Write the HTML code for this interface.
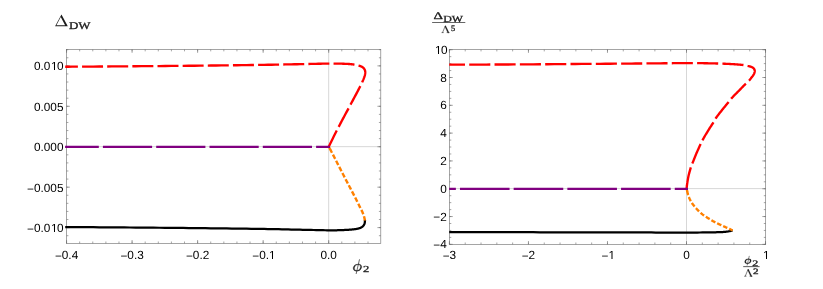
<!DOCTYPE html>
<html><head><meta charset="utf-8"><title>plot</title>
<style>
html,body{margin:0;padding:0;background:#fff;}
body{width:823px;height:289px;overflow:hidden;font-family:"Liberation Sans",sans-serif;}
svg{display:block;will-change:transform;}
</style></head><body>
<svg width="823" height="289" viewBox="0 0 823 289">
<rect width="823" height="289" fill="#fff"/>
<g stroke="#c6c6c6" stroke-width="0.7" fill="none">
<line x1="328.68" y1="49.45" x2="328.68" y2="243.40"/>
<line x1="66.50" y1="146.65" x2="380.80" y2="146.65"/>
</g>
<g stroke="#6e6e6e" stroke-width="0.62" fill="none">
<rect x="66.50" y="49.45" width="314.30" height="193.95"/>
<path d="M66.56 243.40v-1.90M66.56 49.45v1.90M79.67 243.40v-1.90M79.67 49.45v1.90M92.77 243.40v-1.90M92.77 49.45v1.90M105.88 243.40v-1.90M105.88 49.45v1.90M118.98 243.40v-1.90M118.98 49.45v1.90M132.09 243.40v-1.90M132.09 49.45v1.90M145.20 243.40v-1.90M145.20 49.45v1.90M158.30 243.40v-1.90M158.30 49.45v1.90M171.41 243.40v-1.90M171.41 49.45v1.90M184.51 243.40v-1.90M184.51 49.45v1.90M197.62 243.40v-1.90M197.62 49.45v1.90M210.73 243.40v-1.90M210.73 49.45v1.90M223.83 243.40v-1.90M223.83 49.45v1.90M236.94 243.40v-1.90M236.94 49.45v1.90M250.04 243.40v-1.90M250.04 49.45v1.90M263.15 243.40v-1.90M263.15 49.45v1.90M276.26 243.40v-1.90M276.26 49.45v1.90M289.36 243.40v-1.90M289.36 49.45v1.90M302.47 243.40v-1.90M302.47 49.45v1.90M315.57 243.40v-1.90M315.57 49.45v1.90M328.68 243.40v-1.90M328.68 49.45v1.90M341.79 243.40v-1.90M341.79 49.45v1.90M354.89 243.40v-1.90M354.89 49.45v1.90M368.00 243.40v-1.90M368.00 49.45v1.90M66.56 243.40v-3.40M66.56 49.45v3.40M132.09 243.40v-3.40M132.09 49.45v3.40M197.62 243.40v-3.40M197.62 49.45v3.40M263.15 243.40v-3.40M263.15 49.45v3.40M328.68 243.40v-3.40M328.68 49.45v3.40M66.50 235.69h1.90M380.80 235.69h-1.90M66.50 227.60h1.90M380.80 227.60h-1.90M66.50 219.51h1.90M380.80 219.51h-1.90M66.50 211.43h1.90M380.80 211.43h-1.90M66.50 203.34h1.90M380.80 203.34h-1.90M66.50 195.25h1.90M380.80 195.25h-1.90M66.50 187.16h1.90M380.80 187.16h-1.90M66.50 179.08h1.90M380.80 179.08h-1.90M66.50 170.99h1.90M380.80 170.99h-1.90M66.50 162.90h1.90M380.80 162.90h-1.90M66.50 154.82h1.90M380.80 154.82h-1.90M66.50 146.73h1.90M380.80 146.73h-1.90M66.50 138.64h1.90M380.80 138.64h-1.90M66.50 130.56h1.90M380.80 130.56h-1.90M66.50 122.47h1.90M380.80 122.47h-1.90M66.50 114.38h1.90M380.80 114.38h-1.90M66.50 106.29h1.90M380.80 106.29h-1.90M66.50 98.21h1.90M380.80 98.21h-1.90M66.50 90.12h1.90M380.80 90.12h-1.90M66.50 82.03h1.90M380.80 82.03h-1.90M66.50 73.95h1.90M380.80 73.95h-1.90M66.50 65.86h1.90M380.80 65.86h-1.90M66.50 57.77h1.90M380.80 57.77h-1.90M66.50 49.69h1.90M380.80 49.69h-1.90M66.50 227.60h3.40M380.80 227.60h-3.40M66.50 187.16h3.40M380.80 187.16h-3.40M66.50 146.73h3.40M380.80 146.73h-3.40M66.50 106.29h3.40M380.80 106.29h-3.40M66.50 65.86h3.40M380.80 65.86h-3.40"/>
</g>
<g font-family="'Liberation Sans', sans-serif" font-size="11.80" fill="#000" style="text-rendering:geometricPrecision">
<text x="66.56" y="259.00" text-anchor="middle"><tspan dy="0.8">−</tspan><tspan dy="-0.8">0</tspan>.4</text>
<text x="132.09" y="259.00" text-anchor="middle"><tspan dy="0.8">−</tspan><tspan dy="-0.8">0</tspan>.3</text>
<text x="197.62" y="259.00" text-anchor="middle"><tspan dy="0.8">−</tspan><tspan dy="-0.8">0</tspan>.2</text>
<text x="263.90" y="259.00" text-anchor="middle"><tspan dy="0.8">−</tspan><tspan dy="-0.8">0</tspan>.1</text>
<text x="328.68" y="259.00" text-anchor="middle">0.0</text>
<text x="63.50" y="232.15" text-anchor="end"><tspan dy="0.8">−</tspan><tspan dy="-0.8">0</tspan>.0<tspan dx="0.70">1</tspan><tspan dx="-0.70">0</tspan></text>
<text x="63.50" y="191.72" text-anchor="end"><tspan dy="0.8">−</tspan><tspan dy="-0.8">0</tspan>.005</text>
<text x="63.50" y="151.28" text-anchor="end">0.000</text>
<text x="63.50" y="110.84" text-anchor="end">0.005</text>
<text x="63.50" y="70.41" text-anchor="end">0.0<tspan dx="0.70">1</tspan><tspan dx="-0.70">0</tspan></text>
</g>
<g stroke="#c6c6c6" stroke-width="0.7" fill="none">
<line x1="686.50" y1="49.50" x2="686.50" y2="244.40"/>
<line x1="449.40" y1="188.60" x2="765.70" y2="188.60"/>
</g>
<g stroke="#6e6e6e" stroke-width="0.62" fill="none">
<rect x="449.40" y="49.50" width="316.30" height="194.90"/>
<path d="M449.41 244.40v-1.90M449.41 49.50v1.90M465.22 244.40v-1.90M465.22 49.50v1.90M481.02 244.40v-1.90M481.02 49.50v1.90M496.83 244.40v-1.90M496.83 49.50v1.90M512.63 244.40v-1.90M512.63 49.50v1.90M528.44 244.40v-1.90M528.44 49.50v1.90M544.25 244.40v-1.90M544.25 49.50v1.90M560.05 244.40v-1.90M560.05 49.50v1.90M575.86 244.40v-1.90M575.86 49.50v1.90M591.66 244.40v-1.90M591.66 49.50v1.90M607.47 244.40v-1.90M607.47 49.50v1.90M623.28 244.40v-1.90M623.28 49.50v1.90M639.08 244.40v-1.90M639.08 49.50v1.90M654.89 244.40v-1.90M654.89 49.50v1.90M670.69 244.40v-1.90M670.69 49.50v1.90M686.50 244.40v-1.90M686.50 49.50v1.90M702.31 244.40v-1.90M702.31 49.50v1.90M718.11 244.40v-1.90M718.11 49.50v1.90M733.92 244.40v-1.90M733.92 49.50v1.90M749.72 244.40v-1.90M749.72 49.50v1.90M765.53 244.40v-1.90M765.53 49.50v1.90M449.41 244.40v-3.40M449.41 49.50v3.40M528.44 244.40v-3.40M528.44 49.50v3.40M607.47 244.40v-3.40M607.47 49.50v3.40M686.50 244.40v-3.40M686.50 49.50v3.40M765.53 244.40v-3.40M765.53 49.50v3.40M449.40 244.36h1.90M765.70 244.36h-1.90M449.40 237.40h1.90M765.70 237.40h-1.90M449.40 230.45h1.90M765.70 230.45h-1.90M449.40 223.50h1.90M765.70 223.50h-1.90M449.40 216.55h1.90M765.70 216.55h-1.90M449.40 209.60h1.90M765.70 209.60h-1.90M449.40 202.64h1.90M765.70 202.64h-1.90M449.40 195.69h1.90M765.70 195.69h-1.90M449.40 188.74h1.90M765.70 188.74h-1.90M449.40 181.79h1.90M765.70 181.79h-1.90M449.40 174.84h1.90M765.70 174.84h-1.90M449.40 167.88h1.90M765.70 167.88h-1.90M449.40 160.93h1.90M765.70 160.93h-1.90M449.40 153.98h1.90M765.70 153.98h-1.90M449.40 147.03h1.90M765.70 147.03h-1.90M449.40 140.08h1.90M765.70 140.08h-1.90M449.40 133.12h1.90M765.70 133.12h-1.90M449.40 126.17h1.90M765.70 126.17h-1.90M449.40 119.22h1.90M765.70 119.22h-1.90M449.40 112.27h1.90M765.70 112.27h-1.90M449.40 105.32h1.90M765.70 105.32h-1.90M449.40 98.36h1.90M765.70 98.36h-1.90M449.40 91.41h1.90M765.70 91.41h-1.90M449.40 84.46h1.90M765.70 84.46h-1.90M449.40 77.51h1.90M765.70 77.51h-1.90M449.40 70.56h1.90M765.70 70.56h-1.90M449.40 63.60h1.90M765.70 63.60h-1.90M449.40 56.65h1.90M765.70 56.65h-1.90M449.40 49.70h1.90M765.70 49.70h-1.90M449.40 244.36h3.40M765.70 244.36h-3.40M449.40 216.55h3.40M765.70 216.55h-3.40M449.40 188.74h3.40M765.70 188.74h-3.40M449.40 160.93h3.40M765.70 160.93h-3.40M449.40 133.12h3.40M765.70 133.12h-3.40M449.40 105.32h3.40M765.70 105.32h-3.40M449.40 77.51h3.40M765.70 77.51h-3.40M449.40 49.70h3.40M765.70 49.70h-3.40"/>
</g>
<g font-family="'Liberation Sans', sans-serif" font-size="11.80" fill="#000" style="text-rendering:geometricPrecision">
<text x="449.41" y="259.40" text-anchor="middle"><tspan dy="0.8">−</tspan><tspan dy="-0.8">3</tspan></text>
<text x="528.44" y="259.40" text-anchor="middle"><tspan dy="0.8">−</tspan><tspan dy="-0.8">2</tspan></text>
<text x="608.22" y="259.40" text-anchor="middle"><tspan dy="0.8">−</tspan><tspan dy="-0.8">1</tspan></text>
<text x="686.50" y="259.40" text-anchor="middle">0</text>
<text x="766.28" y="259.40" text-anchor="middle">1</text>
<text x="446.80" y="248.36" text-anchor="end"><tspan dy="0.8">−</tspan><tspan dy="-0.8">4</tspan></text>
<text x="446.80" y="220.55" text-anchor="end"><tspan dy="0.8">−</tspan><tspan dy="-0.8">2</tspan></text>
<text x="446.80" y="192.74" text-anchor="end">0</text>
<text x="446.80" y="164.93" text-anchor="end">2</text>
<text x="446.80" y="137.12" text-anchor="end">4</text>
<text x="446.80" y="109.32" text-anchor="end">6</text>
<text x="446.80" y="81.51" text-anchor="end">8</text>
<text x="446.80" y="53.70" text-anchor="end"><tspan dx="0.70">1</tspan><tspan dx="-0.70">0</tspan></text>
</g>
<g fill="none" stroke-width="2.25" stroke-linejoin="round">
<path d="M65.20 227.05 L68.31 227.07 L72.19 227.10 L76.72 227.13 L81.81 227.16 L87.34 227.20 L93.23 227.23 L99.35 227.28 L105.61 227.32 L111.92 227.36 L118.15 227.41 L124.21 227.45 L130.00 227.50 L135.68 227.55 L141.48 227.60 L147.37 227.65 L153.32 227.70 L159.30 227.75 L165.30 227.81 L171.28 227.86 L177.21 227.92 L183.08 227.98 L188.85 228.03 L194.50 228.09 L200.00 228.15 L205.41 228.21 L210.81 228.27 L216.17 228.33 L221.48 228.39 L226.72 228.45 L231.88 228.52 L236.92 228.58 L241.85 228.64 L246.64 228.71 L251.27 228.77 L255.73 228.84 L260.00 228.90 L264.07 228.97 L267.95 229.03 L271.67 229.10 L275.23 229.17 L278.65 229.24 L281.95 229.31 L285.14 229.38 L288.24 229.45 L291.26 229.51 L294.21 229.58 L297.12 229.64 L300.00 229.70 L302.85 229.76 L305.65 229.82 L308.40 229.88 L311.08 229.94 L313.69 230.00 L316.20 230.06 L318.61 230.11 L320.92 230.16 L323.10 230.21 L325.15 230.25 L327.05 230.28 L328.80 230.30 L330.35 230.32 L331.69 230.32 L332.84 230.32 L333.85 230.32 L334.73 230.31 L335.52 230.30 L336.25 230.28 L336.94 230.26 L337.63 230.23 L338.35 230.21 L339.13 230.18 L340.00 230.15 L340.93 230.12 L341.89 230.08 L342.86 230.05 L343.83 230.01 L344.80 229.96 L345.76 229.92 L346.71 229.87 L347.63 229.82 L348.51 229.76 L349.36 229.71 L350.16 229.66 L350.90 229.60 L351.59 229.54 L352.23 229.49 L352.83 229.43 L353.40 229.37 L353.93 229.30 L354.44 229.24 L354.92 229.17 L355.38 229.11 L355.82 229.03 L356.25 228.96 L356.68 228.88 L357.10 228.80 L357.51 228.72 L357.90 228.63 L358.27 228.54 L358.63 228.46 L358.96 228.36 L359.29 228.27 L359.60 228.17 L359.90 228.07 L360.18 227.96 L360.46 227.85 L360.73 227.73 L361.00 227.60 L361.26 227.47 L361.50 227.33 L361.73 227.18 L361.96 227.03 L362.17 226.88 L362.37 226.72 L362.56 226.56 L362.74 226.39 L362.92 226.22 L363.09 226.05 L363.25 225.87 L363.40 225.70 L363.54 225.52 L363.68 225.34 L363.80 225.16 L363.92 224.97 L364.03 224.79 L364.13 224.59 L364.22 224.40 L364.31 224.20 L364.39 224.01 L364.46 223.81 L364.53 223.60 L364.60 223.40 L364.66 223.19 L364.71 222.97 L364.76 222.73 L364.79 222.50 L364.83 222.26 L364.85 222.02 L364.88 221.79 L364.89 221.56 L364.91 221.34 L364.92 221.14 L364.94 220.96 L364.95 220.80 L364.96 220.66 L364.96 220.53 L364.96 220.41 L364.96 220.31 L364.95 220.22 L364.95 220.14 L364.94 220.06 L364.93 220.00 L364.92 219.94 L364.91 219.89 L364.90 219.84 L364.90 219.80" stroke="#000"/>
<path d="M449.20 232.05 L452.59 232.06 L456.80 232.07 L461.71 232.08 L467.21 232.09 L473.22 232.10 L479.60 232.11 L486.26 232.13 L493.10 232.14 L499.99 232.16 L506.85 232.17 L513.55 232.19 L520.00 232.20 L526.41 232.22 L533.03 232.23 L539.82 232.25 L546.73 232.27 L553.69 232.28 L560.67 232.30 L567.62 232.32 L574.47 232.34 L581.19 232.36 L587.72 232.37 L594.00 232.39 L600.00 232.40 L605.76 232.41 L611.39 232.42 L616.88 232.43 L622.22 232.44 L627.43 232.45 L632.50 232.46 L637.43 232.47 L642.22 232.48 L646.88 232.48 L651.39 232.49 L655.76 232.50 L660.00 232.50 L664.09 232.50 L668.05 232.51 L671.86 232.52 L675.53 232.52 L679.06 232.53 L682.45 232.53 L685.71 232.53 L688.83 232.53 L691.82 232.53 L694.68 232.52 L697.40 232.51 L700.00 232.50 L702.45 232.48 L704.74 232.46 L706.88 232.43 L708.87 232.40 L710.73 232.37 L712.47 232.34 L714.09 232.30 L715.61 232.26 L717.03 232.22 L718.36 232.18 L719.61 232.14 L720.80 232.10 L721.87 232.06 L722.78 232.02 L723.55 231.97 L724.21 231.93 L724.77 231.88 L725.25 231.84 L725.68 231.79 L726.07 231.74 L726.45 231.68 L726.83 231.63 L727.24 231.56 L727.70 231.50 L728.19 231.43 L728.68 231.34 L729.16 231.25 L729.63 231.16 L730.09 231.06 L730.53 230.96 L730.95 230.87 L731.33 230.77 L731.69 230.69 L732.00 230.61 L732.27 230.55 L732.50 230.50" stroke="#000"/>
<path d="M328.80 146.55 L329.22 147.37 L329.75 148.40 L330.37 149.62 L331.07 150.98 L331.83 152.45 L332.63 154.02 L333.46 155.64 L334.31 157.29 L335.15 158.93 L335.97 160.53 L336.76 162.06 L337.50 163.50 L338.20 164.87 L338.90 166.23 L339.60 167.58 L340.29 168.92 L340.97 170.25 L341.66 171.58 L342.34 172.91 L343.03 174.24 L343.71 175.57 L344.40 176.91 L345.10 178.25 L345.80 179.60 L346.52 180.98 L347.26 182.39 L348.01 183.82 L348.77 185.27 L349.54 186.73 L350.30 188.17 L351.05 189.59 L351.78 190.98 L352.49 192.33 L353.17 193.62 L353.80 194.85 L354.40 196.00 L354.95 197.08 L355.48 198.10 L355.97 199.08 L356.43 200.00 L356.87 200.89 L357.29 201.73 L357.69 202.54 L358.08 203.32 L358.45 204.07 L358.81 204.80 L359.16 205.51 L359.50 206.20 L359.83 206.87 L360.15 207.49 L360.45 208.08 L360.73 208.64 L361.00 209.17 L361.26 209.67 L361.51 210.16 L361.74 210.64 L361.97 211.11 L362.19 211.57 L362.40 212.03 L362.60 212.50 L362.79 212.97 L362.98 213.43 L363.15 213.89 L363.31 214.34 L363.46 214.78 L363.61 215.21 L363.74 215.62 L363.87 216.03 L363.99 216.42 L364.10 216.80 L364.20 217.16 L364.30 217.50 L364.39 217.83 L364.47 218.15 L364.54 218.46 L364.60 218.76 L364.66 219.04 L364.71 219.31 L364.75 219.56 L364.79 219.80 L364.82 220.01 L364.85 220.20 L364.87 220.36 L364.90 220.50" stroke="#ff8000" stroke-width="2.4" stroke-dasharray="4.8 2.1" stroke-dashoffset="4.7"/>
<path d="M328.80 146.55 L329.22 147.37 L329.75 148.40 L329.99 148.86" stroke="#ff8000"/>
<path d="M686.60 188.60 L686.67 188.90 L686.75 189.27 L686.84 189.71 L686.94 190.20 L687.06 190.74 L687.18 191.31 L687.31 191.90 L687.46 192.50 L687.61 193.10 L687.76 193.69 L687.93 194.26 L688.10 194.80 L688.28 195.32 L688.46 195.84 L688.65 196.37 L688.84 196.89 L689.05 197.42 L689.26 197.94 L689.49 198.47 L689.72 199.00 L689.97 199.52 L690.23 200.05 L690.51 200.57 L690.80 201.10 L691.11 201.62 L691.42 202.15 L691.76 202.67 L692.10 203.20 L692.46 203.72 L692.82 204.25 L693.21 204.78 L693.60 205.30 L694.01 205.82 L694.42 206.35 L694.86 206.87 L695.30 207.40 L695.76 207.93 L696.24 208.47 L696.73 209.01 L697.23 209.55 L697.75 210.10 L698.28 210.64 L698.82 211.17 L699.37 211.70 L699.92 212.22 L700.48 212.73 L701.04 213.22 L701.60 213.70 L702.17 214.16 L702.75 214.61 L703.34 215.04 L703.93 215.47 L704.54 215.88 L705.14 216.29 L705.75 216.69 L706.37 217.08 L706.98 217.46 L707.59 217.85 L708.20 218.22 L708.80 218.60 L709.39 218.97 L709.98 219.33 L710.56 219.68 L711.13 220.02 L711.71 220.36 L712.29 220.69 L712.87 221.03 L713.47 221.36 L714.07 221.69 L714.70 222.02 L715.34 222.36 L716.00 222.70 L716.69 223.05 L717.41 223.40 L718.15 223.76 L718.91 224.12 L719.69 224.48 L720.47 224.84 L721.25 225.20 L722.03 225.55 L722.80 225.90 L723.55 226.24 L724.29 226.58 L725.00 226.90 L725.71 227.22 L726.45 227.56 L727.20 227.90 L727.95 228.23 L728.69 228.57 L729.41 228.89 L730.10 229.20 L730.75 229.48 L731.35 229.75 L731.88 229.98 L732.33 230.19 L732.70 230.35" stroke="#ff8000" stroke-width="2.4" stroke-dasharray="4.55 2.03" stroke-dashoffset="4.38"/>
<path d="M686.60 188.60 L686.67 188.90 L686.75 189.27 L686.84 189.71 L686.94 190.20 L687.06 190.74 L687.15 191.14" stroke="#ff8000"/>
<path d="M65.20 66.75 L68.31 66.73 L72.19 66.70 L76.72 66.67 L81.81 66.64 L87.34 66.60 L93.23 66.57 L99.35 66.52 L105.61 66.48 L111.92 66.44 L118.15 66.39 L124.21 66.35 L130.00 66.30 L135.68 66.25 L141.48 66.20 L147.37 66.15 L153.32 66.10 L159.30 66.05 L165.30 65.99 L171.28 65.94 L177.21 65.88 L183.08 65.82 L188.85 65.77 L194.50 65.71 L200.00 65.65 L205.41 65.59 L210.81 65.53 L216.17 65.47 L221.48 65.41 L226.72 65.34 L231.88 65.28 L236.92 65.22 L241.85 65.15 L246.64 65.09 L251.27 65.03 L255.73 64.96 L260.00 64.90 L264.07 64.84 L267.95 64.77 L271.67 64.71 L275.23 64.64 L278.65 64.58 L281.95 64.51 L285.14 64.45 L288.24 64.39 L291.26 64.32 L294.21 64.26 L297.12 64.21 L300.00 64.15 L302.83 64.09 L305.59 64.04 L308.28 63.98 L310.90 63.92 L313.43 63.87 L315.89 63.82 L318.26 63.77 L320.55 63.72 L322.75 63.68 L324.86 63.65 L326.88 63.62 L328.80 63.60 L330.62 63.59 L332.32 63.58 L333.91 63.59 L335.41 63.59 L336.83 63.60 L338.16 63.62 L339.43 63.64 L340.63 63.67 L341.78 63.70 L342.89 63.73 L343.96 63.76 L345.00 63.80 L345.99 63.84 L346.92 63.88 L347.77 63.93 L348.57 63.99 L349.31 64.04 L350.01 64.10 L350.67 64.16 L351.30 64.23 L351.90 64.29 L352.47 64.36 L353.04 64.43 L353.60 64.50 L354.14 64.57 L354.64 64.65 L355.11 64.73 L355.54 64.81 L355.96 64.89 L356.34 64.97 L356.71 65.06 L357.07 65.15 L357.41 65.24 L357.74 65.32 L358.07 65.41 L358.40 65.50 L358.72 65.59 L359.03 65.68 L359.32 65.77 L359.61 65.86 L359.88 65.95 L360.14 66.04 L360.39 66.13 L360.63 66.22 L360.86 66.32 L361.08 66.41 L361.29 66.50 L361.50 66.60 L361.70 66.69 L361.88 66.79 L362.05 66.88 L362.21 66.97 L362.37 67.07 L362.51 67.16 L362.65 67.26 L362.79 67.36 L362.92 67.46 L363.04 67.57 L363.17 67.68 L363.30 67.80 L363.43 67.92 L363.55 68.05 L363.68 68.18 L363.80 68.32 L363.91 68.46 L364.03 68.60 L364.13 68.75 L364.24 68.89 L364.34 69.04 L364.43 69.19 L364.52 69.35 L364.60 69.50 L364.68 69.65 L364.75 69.81 L364.82 69.97 L364.88 70.13 L364.94 70.29 L364.99 70.45 L365.04 70.62 L365.08 70.79 L365.12 70.96 L365.15 71.13 L365.18 71.31 L365.20 71.50 L365.22 71.69 L365.23 71.88 L365.24 72.08 L365.24 72.27 L365.24 72.48 L365.24 72.68 L365.23 72.89 L365.21 73.10 L365.19 73.32 L365.17 73.54 L365.14 73.77 L365.10 74.00 L365.06 74.23 L365.02 74.46 L364.98 74.69 L364.93 74.92 L364.88 75.16 L364.82 75.40 L364.75 75.65 L364.68 75.91 L364.60 76.18 L364.51 76.47 L364.41 76.78 L364.30 77.10 L364.18 77.45 L364.04 77.81 L363.89 78.20 L363.73 78.60 L363.57 79.02 L363.39 79.44 L363.22 79.87 L363.03 80.31 L362.85 80.74 L362.66 81.17 L362.48 81.59 L362.30 82.00 L362.14 82.36 L362.02 82.66 L361.91 82.91 L361.81 83.14 L361.72 83.36 L361.61 83.61 L361.47 83.90 L361.30 84.26 L361.07 84.71 L360.79 85.27 L360.44 85.96 L360.00 86.80 L359.48 87.79 L358.90 88.90 L358.25 90.12 L357.56 91.44 L356.81 92.84 L356.02 94.33 L355.19 95.88 L354.33 97.49 L353.45 99.14 L352.55 100.84 L351.63 102.56 L350.70 104.30 L349.73 106.11 L348.70 108.04 L347.61 110.07 L346.49 112.16 L345.34 114.31 L344.18 116.48 L343.01 118.65 L341.87 120.80 L340.75 122.90 L339.67 124.93 L338.65 126.87 L337.70 128.70 L336.79 130.47 L335.88 132.26 L334.98 134.04 L334.10 135.80 L333.25 137.51 L332.44 139.15 L331.67 140.71 L330.96 142.16 L330.30 143.50 L329.72 144.68 L329.22 145.71 L328.80 146.55" stroke="#ff0000" stroke-width="2.35" stroke-dasharray="21 4.15" stroke-dashoffset="8.3"/>
<path d="M449.20 64.70 L452.59 64.69 L456.80 64.67 L461.71 64.65 L467.21 64.63 L473.22 64.61 L479.60 64.59 L486.26 64.56 L493.10 64.53 L499.99 64.50 L506.85 64.47 L513.55 64.44 L520.00 64.40 L526.44 64.36 L533.15 64.32 L540.06 64.27 L547.10 64.21 L554.20 64.16 L561.30 64.11 L568.33 64.05 L575.21 64.00 L581.89 63.94 L588.30 63.89 L594.35 63.84 L600.00 63.80 L605.26 63.76 L610.23 63.72 L614.93 63.68 L619.39 63.65 L623.64 63.61 L627.72 63.58 L631.64 63.55 L635.44 63.52 L639.15 63.49 L642.80 63.46 L646.40 63.43 L650.00 63.40 L653.59 63.37 L657.13 63.34 L660.61 63.31 L664.02 63.28 L667.33 63.25 L670.53 63.22 L673.61 63.20 L676.54 63.17 L679.31 63.15 L681.90 63.13 L684.31 63.11 L686.50 63.10 L688.42 63.09 L690.03 63.08 L691.40 63.08 L692.56 63.08 L693.55 63.08 L694.44 63.08 L695.26 63.09 L696.06 63.10 L696.88 63.11 L697.78 63.12 L698.81 63.13 L700.00 63.15 L701.33 63.17 L702.74 63.19 L704.21 63.21 L705.72 63.24 L707.26 63.27 L708.81 63.30 L710.36 63.33 L711.89 63.36 L713.38 63.39 L714.83 63.43 L716.20 63.46 L717.50 63.50 L718.72 63.54 L719.88 63.57 L720.98 63.61 L722.04 63.64 L723.07 63.68 L724.07 63.72 L725.06 63.76 L726.03 63.80 L727.01 63.84 L727.99 63.89 L728.98 63.94 L730.00 64.00 L731.06 64.06 L732.15 64.13 L733.26 64.20 L734.39 64.27 L735.52 64.35 L736.63 64.42 L737.72 64.50 L738.76 64.59 L739.76 64.67 L740.69 64.75 L741.54 64.82 L742.30 64.90 L742.96 64.97 L743.54 65.05 L744.04 65.12 L744.48 65.19 L744.86 65.26 L745.21 65.34 L745.52 65.41 L745.82 65.49 L746.12 65.56 L746.42 65.64 L746.74 65.72 L747.10 65.80 L747.48 65.88 L747.86 65.97 L748.24 66.05 L748.61 66.14 L748.99 66.23 L749.36 66.32 L749.72 66.41 L750.06 66.50 L750.40 66.60 L750.72 66.70 L751.02 66.80 L751.30 66.90 L751.56 67.00 L751.81 67.11 L752.04 67.21 L752.25 67.31 L752.45 67.42 L752.64 67.53 L752.82 67.64 L752.99 67.76 L753.15 67.89 L753.31 68.02 L753.46 68.15 L753.60 68.30 L753.74 68.45 L753.87 68.62 L753.99 68.79 L754.11 68.97 L754.21 69.15 L754.31 69.34 L754.40 69.53 L754.48 69.72 L754.55 69.92 L754.61 70.11 L754.66 70.31 L754.70 70.50 L754.73 70.69 L754.74 70.89 L754.74 71.09 L754.74 71.29 L754.72 71.49 L754.69 71.69 L754.66 71.89 L754.62 72.09 L754.57 72.30 L754.52 72.50 L754.46 72.70 L754.40 72.90 L754.33 73.10 L754.26 73.30 L754.18 73.50 L754.09 73.70 L754.00 73.89 L753.90 74.09 L753.80 74.29 L753.69 74.49 L753.57 74.69 L753.45 74.89 L753.33 75.10 L753.20 75.30 L753.07 75.51 L752.92 75.71 L752.77 75.92 L752.61 76.13 L752.45 76.34 L752.29 76.56 L752.12 76.77 L751.95 76.98 L751.78 77.19 L751.62 77.39 L751.46 77.60 L751.30 77.80 L751.15 78.00 L751.01 78.19 L750.87 78.38 L750.73 78.57 L750.59 78.75 L750.46 78.94 L750.32 79.12 L750.17 79.31 L750.02 79.50 L749.86 79.70 L749.68 79.89 L749.50 80.10 L749.32 80.30 L749.14 80.47 L748.98 80.64 L748.81 80.80 L748.63 80.96 L748.44 81.13 L748.24 81.32 L748.00 81.54 L747.74 81.79 L747.44 82.07 L747.09 82.41 L746.70 82.80 L746.25 83.25 L745.74 83.76 L745.19 84.32 L744.60 84.91 L743.98 85.55 L743.33 86.20 L742.67 86.87 L742.00 87.55 L741.33 88.23 L740.67 88.91 L740.02 89.56 L739.40 90.20 L738.78 90.83 L738.14 91.48 L737.48 92.15 L736.82 92.81 L736.16 93.49 L735.51 94.15 L734.87 94.80 L734.24 95.44 L733.65 96.05 L733.09 96.64 L732.57 97.19 L732.10 97.70 L731.69 98.15 L731.34 98.55 L731.04 98.90 L730.79 99.21 L730.55 99.51 L730.34 99.79 L730.12 100.07 L729.90 100.36 L729.66 100.68 L729.39 101.04 L729.07 101.44 L728.70 101.90 L728.28 102.42 L727.82 102.98 L727.32 103.57 L726.81 104.20 L726.27 104.85 L725.72 105.52 L725.16 106.20 L724.59 106.89 L724.03 107.58 L723.47 108.26 L722.93 108.94 L722.40 109.60 L721.87 110.26 L721.33 110.95 L720.78 111.65 L720.22 112.35 L719.66 113.06 L719.11 113.76 L718.58 114.45 L718.06 115.13 L717.57 115.77 L717.11 116.39 L716.68 116.97 L716.30 117.50 L715.98 117.97 L715.71 118.37 L715.50 118.72 L715.32 119.03 L715.17 119.31 L715.03 119.58 L714.89 119.86 L714.74 120.15 L714.57 120.48 L714.37 120.85 L714.11 121.29 L713.80 121.80 L713.43 122.39 L713.01 123.04 L712.56 123.74 L712.08 124.48 L711.57 125.25 L711.05 126.05 L710.52 126.86 L709.99 127.68 L709.46 128.49 L708.95 129.29 L708.46 130.06 L708.00 130.80 L707.55 131.53 L707.10 132.27 L706.64 133.03 L706.19 133.78 L705.75 134.53 L705.31 135.26 L704.89 135.98 L704.49 136.68 L704.10 137.34 L703.74 137.97 L703.40 138.56 L703.10 139.10 L702.84 139.57 L702.63 139.95 L702.45 140.28 L702.30 140.55 L702.18 140.80 L702.06 141.03 L701.95 141.27 L701.83 141.53 L701.69 141.82 L701.53 142.17 L701.34 142.59 L701.10 143.10 L700.82 143.69 L700.51 144.35 L700.18 145.07 L699.82 145.83 L699.45 146.62 L699.07 147.45 L698.68 148.30 L698.29 149.15 L697.90 150.01 L697.52 150.86 L697.15 151.69 L696.80 152.50 L696.45 153.31 L696.10 154.15 L695.75 155.01 L695.39 155.89 L695.04 156.76 L694.69 157.62 L694.35 158.47 L694.02 159.29 L693.71 160.07 L693.42 160.81 L693.15 161.49 L692.90 162.10 L692.68 162.63 L692.50 163.06 L692.34 163.43 L692.20 163.74 L692.07 164.02 L691.96 164.28 L691.85 164.53 L691.74 164.79 L691.62 165.08 L691.50 165.42 L691.36 165.82 L691.20 166.30 L691.02 166.86 L690.83 167.47 L690.62 168.14 L690.41 168.84 L690.19 169.58 L689.98 170.33 L689.76 171.09 L689.54 171.86 L689.34 172.61 L689.14 173.34 L688.96 174.04 L688.80 174.70 L688.65 175.34 L688.51 175.97 L688.38 176.59 L688.26 177.21 L688.14 177.82 L688.04 178.41 L687.94 178.99 L687.84 179.56 L687.75 180.10 L687.66 180.62 L687.58 181.12 L687.50 181.60 L687.42 182.05 L687.36 182.47 L687.29 182.87 L687.24 183.25 L687.19 183.61 L687.14 183.96 L687.09 184.29 L687.05 184.60 L687.01 184.91 L686.97 185.21 L686.94 185.51 L686.90 185.80 L686.86 186.09 L686.83 186.38 L686.80 186.66 L686.77 186.94 L686.74 187.21 L686.71 187.46 L686.69 187.70 L686.67 187.93 L686.65 188.13 L686.63 188.31 L686.61 188.47 L686.60 188.60" stroke="#ff0000" stroke-width="2.35" stroke-dasharray="21.1 4.22" stroke-dashoffset="5.3"/>
<path d="M65.1 146.85H330.0" stroke="#800080" stroke-dasharray="49.2 4.1" stroke-dashoffset="15.5"/>
<path d="M449.2 188.75H688.0" stroke="#800080" stroke-dasharray="49.6 4.1" stroke-dashoffset="42.94"/>
</g>
<g font-family="'Liberation Serif', serif" fill="#1c1c1c" stroke="#1c1c1c" stroke-width="0.3" style="text-rendering:geometricPrecision">
<path stroke="none" fill-rule="evenodd" d="M55.1 26.35L61.45 14.6L67.8 26.35ZM56.4 25.3H65.1L60.75 17.1Z"/>
<text x="69.0" y="28.8" font-size="10.4" textLength="21.6" lengthAdjust="spacingAndGlyphs">DW</text>
<g transform="translate(357.45 267.60) skewX(-13.0) translate(-357.45 -267.60)">
<path fill="#1c1c1c" fill-rule="evenodd" d="M353.25 267.60a4.20 3.60 0 1 0 8.40 0a4.20 3.60 0 1 0 -8.40 0ZM354.50 267.60a2.95 3.00 0 1 1 5.90 0a2.95 3.00 0 1 1 -5.90 0Z"/>
<path fill="none" stroke="#1c1c1c" stroke-width="0.62" d="M357.60 259.30V274.00"/>
</g>
<text x="363.0" y="272.2" font-size="9.2" textLength="6.3" lengthAdjust="spacingAndGlyphs">2</text>
<text x="433.4" y="18.7" font-size="10.2" textLength="9.4" lengthAdjust="spacingAndGlyphs">Δ</text>
<text x="443.2" y="22.3" font-size="9.3" textLength="19.8" lengthAdjust="spacingAndGlyphs">DW</text>
<rect x="432.1" y="22.2" width="33.2" height="0.75" fill="#333" stroke="none"/>
<path fill="#1c1c1c" d="M444.85 26.50L445.52 25.60L449.07 32.85L447.82 32.85Z"/>
<path fill="none" stroke="#1c1c1c" stroke-width="0.55" d="M445.25 26.00L442.45 32.85"/>
<path fill="none" stroke="#1c1c1c" stroke-width="0.5" d="M441.50 32.60h2.3M449.50 32.60h-2.9"/>
<text x="451.0" y="30.8" font-size="8.4">5</text>
<g transform="translate(747.95 261.20) skewX(-13.0) translate(-747.95 -261.20)">
<path fill="#1c1c1c" fill-rule="evenodd" d="M744.80 261.20a3.15 2.45 0 1 0 6.30 0a3.15 2.45 0 1 0 -6.30 0ZM745.80 261.20a2.15 1.97 0 1 1 4.30 0a2.15 1.97 0 1 1 -4.30 0Z"/>
<path fill="none" stroke="#1c1c1c" stroke-width="0.50" d="M748.10 255.90V265.50"/>
</g>
<text x="752.3" y="265.9" font-size="8.4" textLength="6.0" lengthAdjust="spacingAndGlyphs">2</text>
<rect x="743.2" y="266.3" width="16.4" height="0.8" fill="#333" stroke="none"/>
<path fill="#1c1c1c" d="M747.65 269.90L748.32 269.00L751.98 276.45L750.73 276.45Z"/>
<path fill="none" stroke="#1c1c1c" stroke-width="0.55" d="M748.05 269.40L745.15 276.45"/>
<path fill="none" stroke="#1c1c1c" stroke-width="0.5" d="M744.20 276.20h2.3M752.40 276.20h-2.9"/>
<text x="753.0" y="274.1" font-size="8.2" textLength="5.6" lengthAdjust="spacingAndGlyphs">2</text>
</g>
<g id="footfix" fill="#fff"><rect x="269" y="257" width="3" height="2"/><rect x="273" y="257" width="3" height="2"/><rect x="51" y="230" width="3" height="2"/><rect x="55" y="230" width="2" height="2"/><rect x="51" y="68" width="3" height="2"/><rect x="55" y="68" width="2" height="2"/><rect x="608" y="258" width="3" height="1"/><rect x="613" y="258" width="2" height="1"/><rect x="763" y="257" width="3" height="2"/><rect x="767" y="257" width="3" height="2"/><rect x="435" y="52" width="3" height="2"/><rect x="439" y="52" width="2" height="2"/><rect x="611" y="258" width="1" height="1" fill-opacity="0.395"/><rect x="612" y="258" width="1" height="1" fill-opacity="0.411"/></g>
</svg>
</body></html>
